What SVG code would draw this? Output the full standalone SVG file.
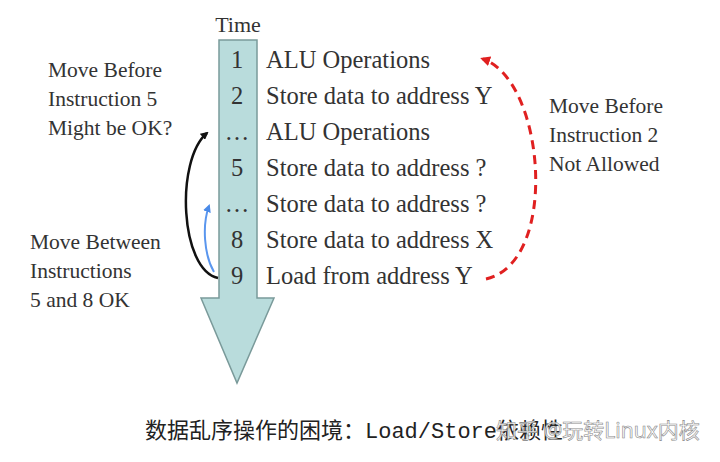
<svg xmlns="http://www.w3.org/2000/svg" width="720" height="462" viewBox="0 0 720 462">
<style>
text{font-family:"Liberation Serif",serif;fill:#333;font-size:24.5px}
.lbl{font-size:21.5px}
.n{text-anchor:middle}
</style>
<defs>
<marker id="ab" markerWidth="8" markerHeight="8" refX="6" refY="4" orient="auto" markerUnits="userSpaceOnUse"><path d="M0,0L8,4L0,8z" fill="#111"/></marker>
<marker id="ar" markerWidth="10" markerHeight="10" refX="7" refY="5" orient="auto" markerUnits="userSpaceOnUse"><path d="M0,0L10,5L0,10z" fill="#e02020"/></marker>
<marker id="au" markerWidth="8" markerHeight="8" refX="6" refY="4" orient="auto" markerUnits="userSpaceOnUse"><path d="M0,0L8,4L0,8z" fill="#4a8ae8"/></marker>
</defs>
<rect width="720" height="462" fill="#fff"/>
<g id="timeline">
<path d="M219,40H257V298H274L237,383L201,298H219Z" fill="#b9dcdc" stroke="#7a9a9a" stroke-width="1.5"/>
<text x="238" y="32" class="n" style="font-size:22px">Time</text>
</g>
<g id="rows">
<text x="237" y="68" class="n">1</text><text x="266" y="68">ALU Operations</text>
<text x="237" y="104" class="n">2</text><text x="266" y="104">Store data to address Y</text>
<text x="237" y="140" class="n">…</text><text x="266" y="140">ALU Operations</text>
<text x="237" y="176" class="n">5</text><text x="266" y="176">Store data to address ?</text>
<text x="237" y="212" class="n">…</text><text x="266" y="212">Store data to address ?</text>
<text x="237" y="248" class="n">8</text><text x="266" y="248">Store data to address X</text>
<text x="237" y="284" class="n">9</text><text x="266" y="284">Load from address Y</text>
</g>
<g id="labels">
<text class="lbl" x="48" y="77">Move Before</text>
<text class="lbl" x="48" y="106">Instruction 5</text>
<text class="lbl" x="48" y="135">Might be OK?</text>
<text class="lbl" x="30" y="249">Move Between</text>
<text class="lbl" x="30" y="278">Instructions</text>
<text class="lbl" x="30" y="307">5 and 8 OK</text>
<text class="lbl" x="549" y="113">Move Before</text>
<text class="lbl" x="549" y="142">Instruction 2</text>
<text class="lbl" x="549" y="171">Not Allowed</text>
</g>
<g id="connectors" fill="none">
<path d="M486,279C560,262 545,80 483,59" stroke="#e02020" stroke-width="3" stroke-dasharray="9,6" marker-end="url(#ar)"/>
<path d="M218,278C180,270 175,160 207,133" stroke="#111" stroke-width="2.5" marker-end="url(#ab)"/>
<path d="M214,272C204,255 202,225 209,206" stroke="#5a96ee" stroke-width="2" marker-end="url(#au)"/>
</g>
<g id="caption">
<text x="145" y="438" style="font-family:'Liberation Mono','Noto Sans CJK SC',monospace;font-size:22px;fill:#222">数据乱序操作的困境：Load/Store依赖性</text>
<text x="496" y="438" style="font-family:'Noto Sans','Noto Sans CJK SC',sans-serif;font-size:21px;fill:#fff;fill-opacity:0.85;stroke:#888;stroke-width:0.6">知乎 @玩转Linux内核</text>
</g>
</svg>
